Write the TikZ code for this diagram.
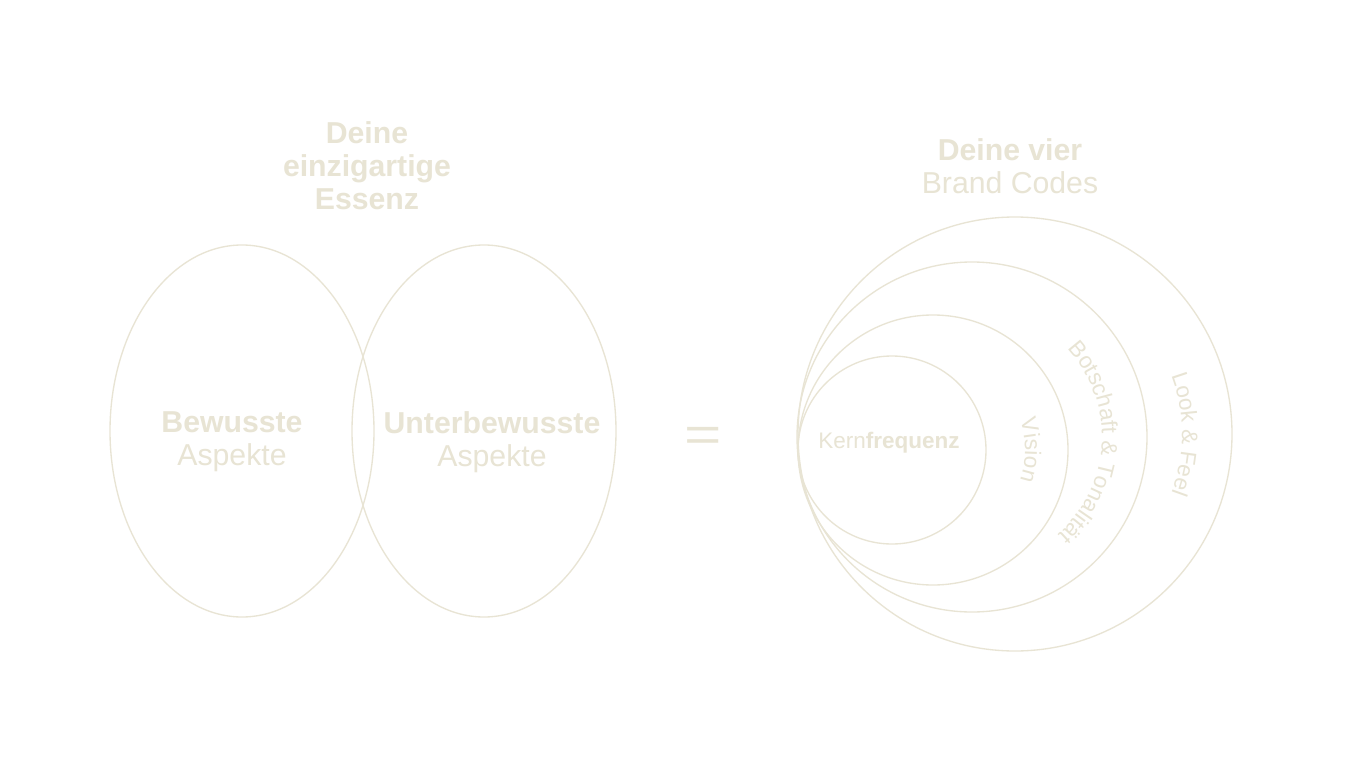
\documentclass[tikz,border=0pt]{standalone}
\usepackage{fontspec}
\setmainfont{Liberation Sans}
\newfontfamily\bfn[FakeStretch=1.0]{Liberation Sans Bold}
\newfontfamily\rgn[FakeStretch=1.0]{Liberation Sans}
\usetikzlibrary{decorations.text}
\definecolor{beige}{HTML}{E8E4D4}
\begin{document}
\begin{tikzpicture}[x=0.05cm,y=-0.05cm,
  ln/.style={draw=beige,line width=1.9pt},
  big/.style={text=beige,font=\fontsize{43}{47}\selectfont,align=center,inner sep=0},
  mid/.style={text=beige,font=\fontsize{32}{34}\selectfont,inner sep=0}]
\useasboundingbox[fill=white] (0,0) rectangle (1366,768);
% titles
\node[big] (t1) at (367,166) {{\bfn Deine}\\{\bfn einzigartige}\\{\bfn Essenz}};
\node[big] (t2) at (1010,166) {{\bfn Deine vier}\\{\rgn Brand Codes}};
% ellipses
\draw[ln] (242,431) ellipse [x radius=132,y radius=186];
\draw[ln] (484,431) ellipse [x radius=132,y radius=186];
\node[big] (l1) at (232,442) {{\bfn Bewusste}\\{\rgn Aspekte}};
\node[big] (l2) at (492,442) {{\bfn Unterbewusste}\\{\rgn Aspekte}};
% equals
\node[text=beige,font=\fontsize{70}{70}\selectfont,inner sep=0,xscale=1.3] (eq) at (703,439) {=};
% circles
\coordinate (c1) at (892,450);
\coordinate (c2) at (933,450);
\coordinate (c3) at (972,437);
\coordinate (c4) at (1015,434);
\draw[ln] (c1) circle [radius=94];
\draw[ln] (c2) circle [radius=135];
\draw[ln] (c3) circle [radius=175];
\draw[ln] (c4) circle [radius=217];
\node[mid] (k) at (889,443) {{\rgn Kern}{\bfn frequenz}};
\path[decorate,decoration={text along path,text align=center,
  text={|\fontsize{32}{34}\rgn\color{beige}|Vision}}]
  (c2) ++(-40:92) arc[start angle=-40,end angle=40,radius=92];
\path[decorate,decoration={text along path,text align=center,
  text={|\fontsize{32}{34}\rgn\color{beige}|Botschaft {\&} Tonalit{ä}t}}]
  (c3) ++(-55:130) arc[start angle=-55,end angle=61,radius=130];
\path[decorate,decoration={text along path,text align=center,
  text={|\fontsize{32}{34}\rgn\color{beige}|Look {\&} Feel}}]
  (c4) ++(-35:167) arc[start angle=-35,end angle=35,radius=167];
\end{tikzpicture}
\end{document}
